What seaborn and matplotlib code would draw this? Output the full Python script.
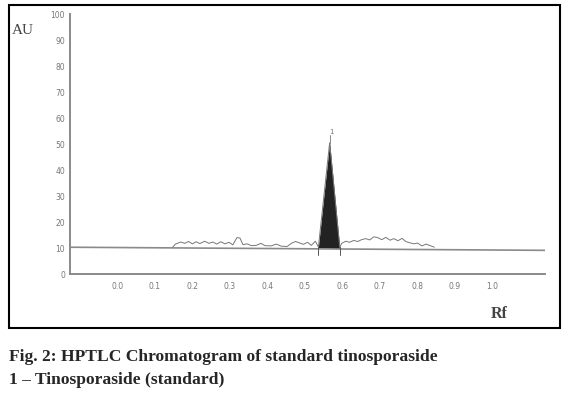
import matplotlib
matplotlib.use("Agg")
from matplotlib import pyplot as plt
from matplotlib.patches import Rectangle
import pandas as pd
import seaborn as sns

# densitometric scan (Rf vs AU)
left_rf = [0.147, 0.155, 0.169, 0.180, 0.190, 0.200, 0.210, 0.220, 0.233, 0.244,
           0.255, 0.265, 0.276, 0.287, 0.298, 0.308, 0.319, 0.327, 0.335, 0.346,
           0.357, 0.370, 0.383, 0.394, 0.410, 0.424, 0.437, 0.453, 0.464, 0.475,
           0.485, 0.496, 0.507, 0.517, 0.528, 0.536]
left_au = [10.2, 11.5, 12.3, 11.8, 12.5, 11.6, 12.4, 11.7, 12.6, 11.8,
           12.3, 11.5, 12.4, 11.6, 12.2, 11.2, 14.0, 13.8, 11.3, 11.6,
           10.9, 11.0, 11.8, 10.9, 10.8, 11.5, 10.7, 10.6, 11.8, 12.5,
           12.0, 11.4, 12.2, 11.0, 12.6, 10.4]

peak_rf = [0.536, 0.566, 0.593]
peak_au = [10.3, 50.5, 10.2]

right_rf = [0.593, 0.598, 0.609, 0.619, 0.630, 0.641, 0.651, 0.662, 0.673, 0.684,
            0.694, 0.705, 0.716, 0.727, 0.737, 0.748, 0.759, 0.769, 0.780, 0.791,
            0.800, 0.812, 0.823, 0.834, 0.845]
right_au = [10.2, 11.8, 12.6, 12.2, 12.9, 12.5, 13.2, 13.6, 13.1, 14.3,
            14.0, 13.2, 14.1, 13.0, 13.6, 12.8, 13.7, 12.5, 12.0, 11.6,
            11.9, 10.8, 11.5, 10.9, 10.3]

baseline_rf = [-0.126, 1.14]
baseline_au = [10.3, 9.1]

y_ticks = [0, 10, 20, 30, 40, 50, 60, 70, 80, 90, 100]
x_ticks = [0.0, 0.1, 0.2, 0.3, 0.4, 0.5, 0.6, 0.7, 0.8, 0.9, 1.0]
x_labels = ["0.0", "0.1", "0.2", "0.3", "0.4", "0.5", "0.6", "0.7", "0.8", "0.9", "1.0"]

sns.set_style("white")
plt.rcParams["font.family"] = ["DejaVu Sans"]

fig = plt.figure(figsize=(5.67, 3.96), dpi=100)
ax = fig.add_axes([70 / 567, 1 - 274 / 396, 475 / 567, 260 / 396])

grey = "#8a8a8a"
scan = pd.DataFrame({"Rf": left_rf + peak_rf + right_rf,
                     "AU": left_au + peak_au + right_au})
sns.lineplot(data=scan, x="Rf", y="AU", ax=ax, color="#777777", lw=0.7,
             sort=False, estimator=None)
sns.lineplot(x=baseline_rf, y=baseline_au, ax=ax, color=grey, lw=1.2)
ax.fill_between(peak_rf, peak_au, [10.2, 9.9, 9.7], color="#222222", lw=0)

# peak boundary and apex marks
for r in (peak_rf[0], peak_rf[-1]):
    ax.plot([r, r], [7.5, 10.5], color="#555555", lw=0.7)
ax.plot([peak_rf[1], peak_rf[1]], [50.5, 53.5], color="#777777", lw=0.6)
ax.text(peak_rf[1] + 0.004, 53.5, "1", fontsize=5, color="#777777",
        ha="center", va="bottom")

ax.set_xlim(-0.126, 1.14)
ax.set_ylim(0, 100)
ax.set_xticks(x_ticks)
ax.set_xticklabels(x_labels)
ax.set_yticks(y_ticks)
ax.tick_params(axis="both", labelsize=5.5, colors=grey, labelcolor="#777777",
               length=3, width=0.7)
ax.tick_params(axis="y", direction="inout", pad=2)
ax.tick_params(axis="x", direction="out", pad=3)
for side in ("top", "right"):
    ax.spines[side].set_visible(False)
for side in ("left", "bottom"):
    ax.spines[side].set_color(grey)
    ax.spines[side].set_linewidth(1.4)
ax.set_xlabel("")
ax.set_ylabel("")

fig.text(12 / 567, 1 - 31 / 396, "AU", fontsize=11, family="Liberation Serif",
         color="#444444", va="center")
fig.text(491 / 567, 1 - 314 / 396, "Rf", fontsize=11.5, family="Liberation Serif",
         fontweight="bold", color="#444444", va="center")

fig.patches.append(Rectangle((9 / 567, 1 - 328 / 396), 551 / 567, 323 / 396,
                             transform=fig.transFigure, fill=False,
                             edgecolor="black", lw=1.5))

fig.text(9 / 567, 1 - 357 / 396,
         "Fig. 2: HPTLC Chromatogram of standard tinosporaside",
         fontsize=12.6, family="Liberation Serif", fontweight="bold", va="center")
fig.text(9 / 567, 1 - 380 / 396, "1 \u2013 Tinosporaside (standard)",
         fontsize=12.6, family="Liberation Serif", fontweight="bold", va="center")

fig.savefig("out.png", dpi=100)
